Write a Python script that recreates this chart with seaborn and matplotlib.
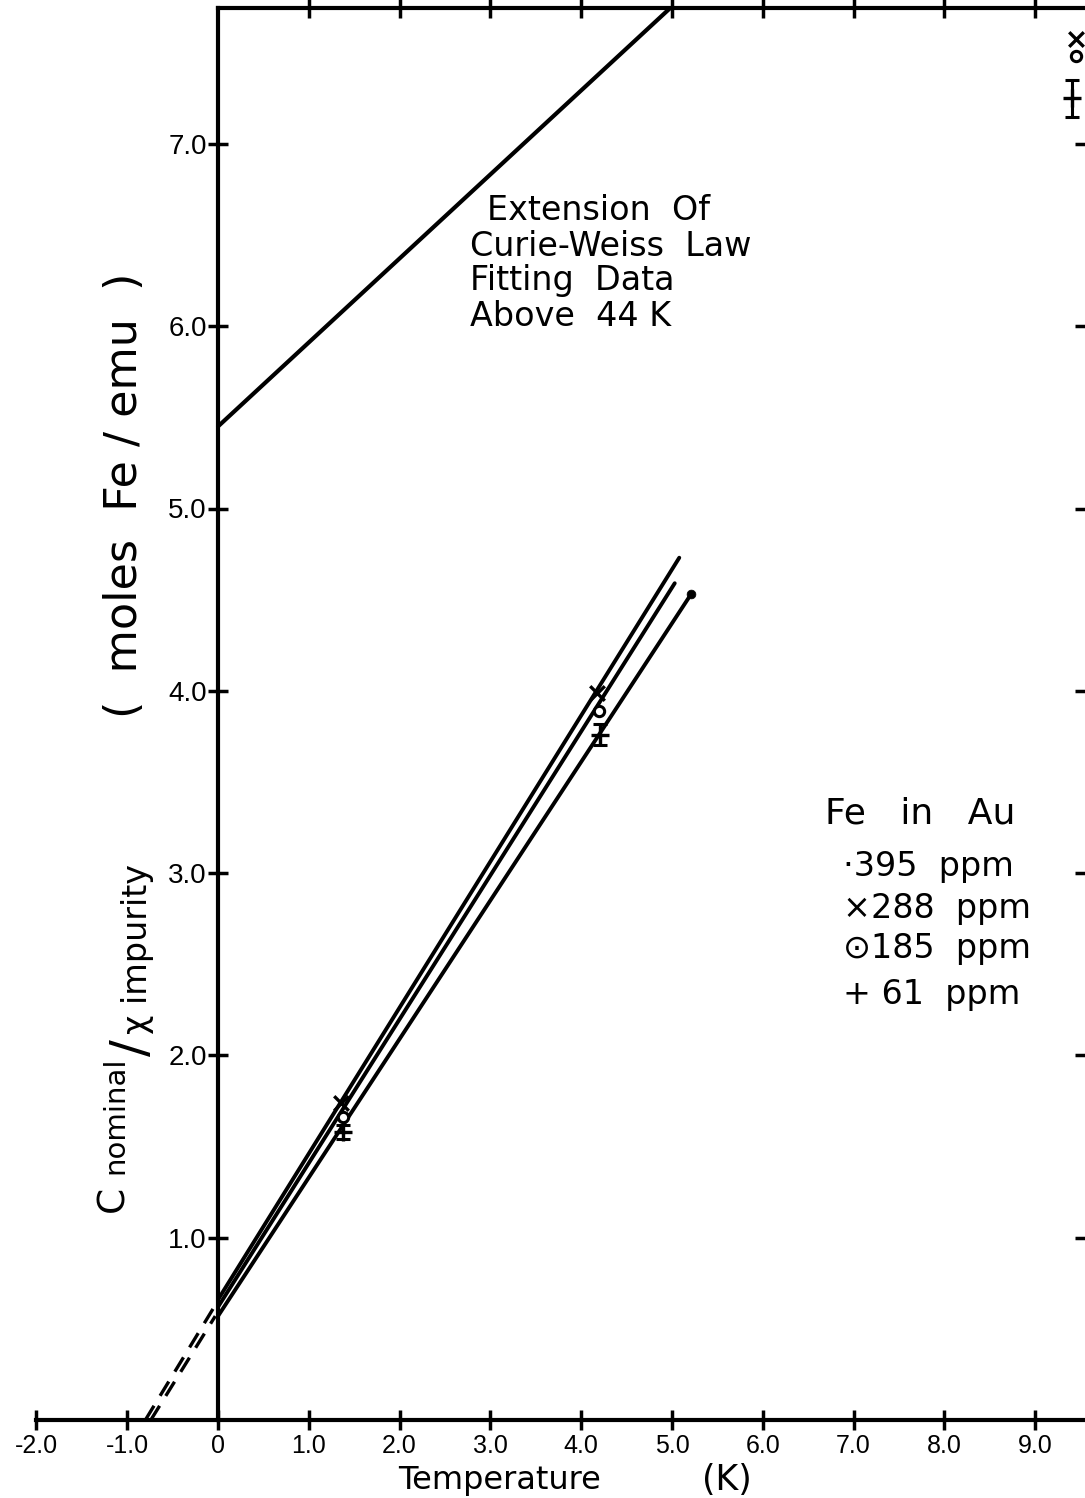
import matplotlib
matplotlib.use("Agg")
import matplotlib.pyplot as plt
from matplotlib import font_manager
import seaborn as sns

# ---- axis ticks -----------------------------------------------------------
x_ticks = [-2, -1, 0, 1, 2, 3, 4, 5, 6, 7, 8, 9]
x_tick_labels = ["-2.0", "-1.0", "0", "1.0", "2.0", "3.0", "4.0",
                 "5.0", "6.0", "7.0", "8.0", "9.0"]
y_ticks = [1, 2, 3, 4, 5, 6, 7]
y_tick_labels = ["1.0", "2.0", "3.0", "4.0", "5.0", "6.0", "7.0"]

# ---- Curie-Weiss law fitted above 44 K, extended to low T ------------------
cw_T = [0.0, 4.98]
cw_val = [5.45, 7.745]

# ---- low-temperature straight-line fits -----------------------------------
fit_288_T = [0.0, 5.08]
fit_288_val = [0.66, 4.73]
fit_185_T = [0.0, 5.03]
fit_185_val = [0.62, 4.59]
fit_61_T = [0.0, 5.21]
fit_61_val = [0.57, 4.53]

# ---- extrapolation of the fits below T = 0 --------------------------------
ext_a_T = [-0.80, -0.03]
ext_a_val = [0.0, 0.63]
ext_b_T = [-0.74, -0.03]
ext_b_val = [0.0, 0.57]

# ---- measured points ------------------------------------------------------
pts_T_288 = [1.36, 4.17, 9.45]
pts_288 = [1.74, 3.99, 7.575]
pts_T_185 = [1.38, 4.20, 9.45]
pts_185 = [1.66, 3.89, 7.48]
pts_T_61 = [1.38, 4.21, 9.40]
pts_61 = [1.58, 3.76, 7.25]
err_61 = [0.04, 0.06, 0.10]
pts_T_395 = [5.21]
pts_395 = [4.53]

# ---- figure ---------------------------------------------------------------
sns.set_style("white")
plt.rcParams["font.family"] = ["DejaVu Sans"]

installed = {f.name for f in font_manager.fontManager.ttflist}
if "Liberation Sans Narrow" in installed:
    tick_font, xsize, ysize = ["Liberation Sans Narrow", "DejaVu Sans"], 21, 23
else:
    tick_font, xsize, ysize = ["Liberation Sans", "DejaVu Sans"], 18, 20

W, H = 1085, 1498
fig = plt.figure(figsize=(W / 100, H / 100), dpi=100)
ax = fig.add_axes([0, 0, 1, 1])

x_lo, x_hi = -218 / 90.8, (W - 218) / 90.8
y_lo, y_hi = (1420 - H) / 182.3, 1420 / 182.3
y_top = (1420 - 8) / 182.3
ax.set_xlim(x_lo, x_hi)
ax.set_ylim(y_lo, y_hi)

ink = "black"
LW = 3.0

# Curie-Weiss extension
sns.lineplot(x=cw_T, y=cw_val, ax=ax, color=ink, linewidth=LW,
             sort=False, estimator=None)

# fitted lines
for T, v in [(fit_288_T, fit_288_val), (fit_185_T, fit_185_val),
             (fit_61_T, fit_61_val)]:
    sns.lineplot(x=T, y=v, ax=ax, color=ink, linewidth=2.8,
                 sort=False, estimator=None)

# dashed extrapolations
for T, v in [(ext_a_T, ext_a_val), (ext_b_T, ext_b_val)]:
    sns.lineplot(x=T, y=v, ax=ax, color=ink, linewidth=2.4,
                 linestyle=(0, (5, 3.5)), sort=False, estimator=None)

# data markers
sns.scatterplot(x=pts_T_288, y=pts_288, ax=ax, marker="x", s=110,
                color=ink, linewidth=2.4, zorder=5)
sns.scatterplot(x=pts_T_185, y=pts_185, ax=ax, marker="o", s=55,
                facecolor="white", edgecolor=ink, linewidth=2.2, zorder=5)
ax.errorbar(pts_T_61, pts_61, yerr=err_61, fmt="none", ecolor=ink,
            elinewidth=2.2, capsize=5, capthick=2.2, zorder=5)
sns.scatterplot(x=pts_T_61, y=pts_61, ax=ax, marker="+", s=150,
                color=ink, linewidth=2.4, zorder=6)
sns.scatterplot(x=pts_T_395, y=pts_395, ax=ax, marker="o", s=40,
                color=ink, edgecolor=ink, zorder=6)

# ---- frame: axes crossing at T = 0 and at zero ----------------------------
for side in ["left", "bottom", "top"]:
    ax.spines[side].set_linewidth(3)
    ax.spines[side].set_color(ink)
ax.spines["left"].set_position(("data", 0))
ax.spines["left"].set_bounds(0, y_top)
ax.spines["bottom"].set_position(("data", 0))
ax.spines["bottom"].set_bounds(-2.0, x_hi)
ax.spines["top"].set_position(("data", y_top))
ax.spines["top"].set_bounds(0, x_hi)
ax.spines["right"].set_visible(False)

ax.set_xticks(x_ticks, x_tick_labels)
ax.set_yticks(y_ticks, y_tick_labels)
ax.tick_params(axis="both", direction="inout", length=14, width=2.5,
               color=ink, labelcolor=ink)
ax.tick_params(axis="x", top=True, bottom=True, labeltop=False,
               labelbottom=True, pad=3, labelsize=xsize)
ax.tick_params(axis="y", left=True, right=True, labelleft=True,
               labelright=False, pad=1, labelsize=ysize)
for lab in ax.get_xticklabels() + ax.get_yticklabels():
    lab.set_family(tick_font)
for t, tick in zip(x_ticks, ax.xaxis.get_major_ticks()):
    if t < 1:
        tick.tick2line.set_visible(False)


def px_text(px, py, s, **kw):
    fig.text(px / W, 1 - py / H, s, color=ink, **kw)


# axis titles
px_text(500, 1489, "Temperature", fontsize=23, ha="center", va="baseline")
px_text(727, 1490, "(K)", fontsize=25, ha="center", va="baseline")

rot = dict(rotation=90, rotation_mode="anchor", ha="left", va="baseline")
px_text(137, 718, "(  moles  Fe / emu  )", fontsize=32, **rot)
px_text(123, 1212, "C", fontsize=27, **rot)
px_text(123, 1174, "nominal", fontsize=21, **rot)
px_text(146, 1056, "/", fontsize=36, **rot)
px_text(147, 1034, "χ impurity", fontsize=24, **rot)

# note on the Curie-Weiss line
note = dict(fontsize=24, ha="left", va="baseline")
px_text(487, 220, "Extension  Of", **note)
px_text(470, 256, "Curie-Weiss  Law", **note)
px_text(470, 290, "Fitting  Data", **note)
px_text(470, 326, "Above  44 K", **note)

# sample legend
leg = dict(fontsize=24, ha="left", va="baseline")
px_text(825, 823, "Fe   in   Au", fontsize=26, ha="left", va="baseline")
px_text(843, 876, "·395  ppm", **leg)
px_text(843, 918, "×288  ppm", **leg)
px_text(843, 958, "⊙185  ppm", **leg)
px_text(843, 1004, "+ 61  ppm", **leg)

fig.savefig("out.png", dpi=100, facecolor="white")
